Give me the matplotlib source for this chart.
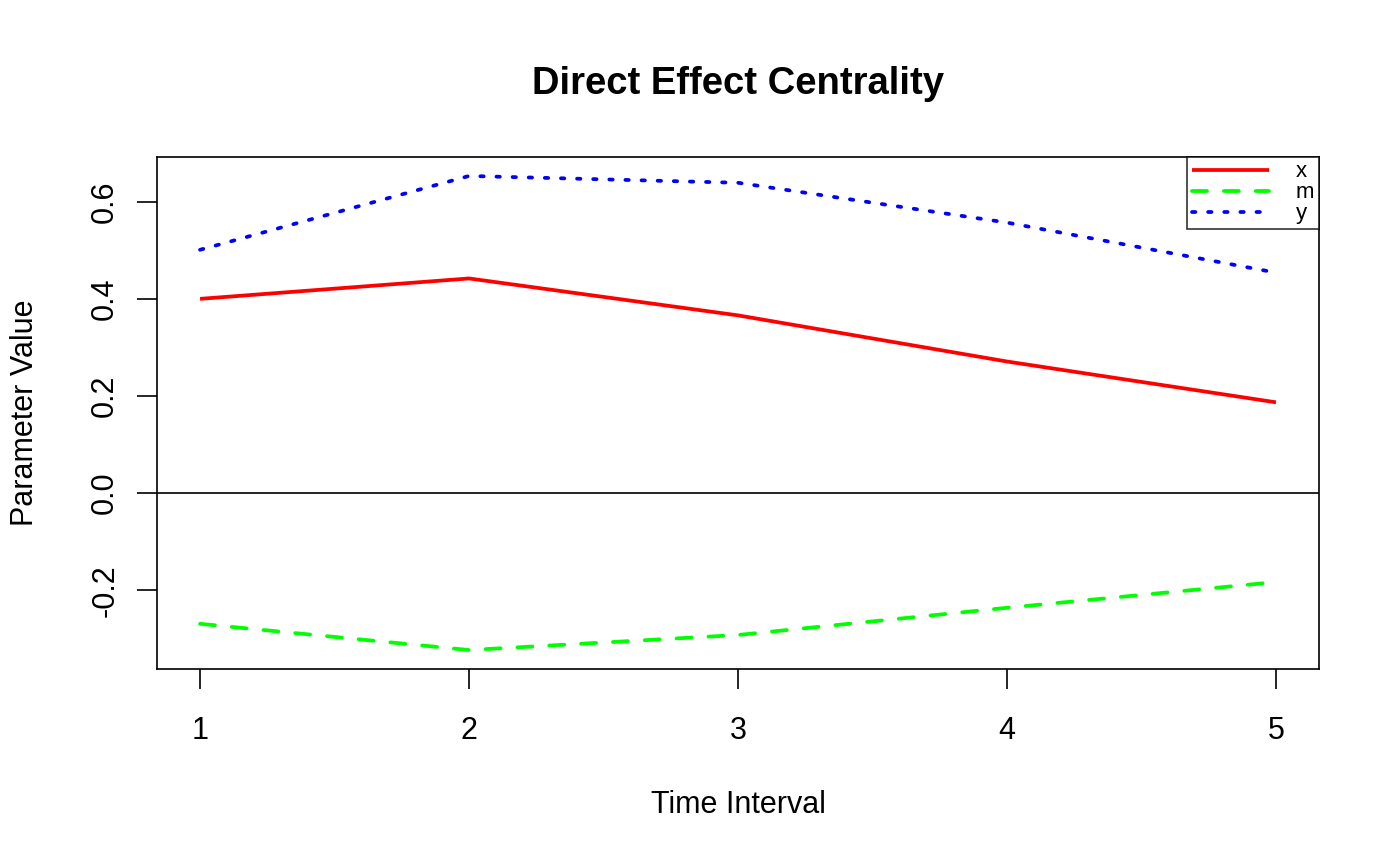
import matplotlib.pyplot as plt
import numpy as np

plt.rcParams['font.family'] = ['Liberation Sans', 'DejaVu Sans']

# data
time_interval = [1, 2, 3, 4, 5]
x_vals = [0.400, 0.442, 0.366, 0.271, 0.187]
m_vals = [-0.269, -0.323, -0.292, -0.236, -0.183]
y_vals = [0.501, 0.653, 0.639, 0.557, 0.454]

series = [('x', x_vals, '#ff0000', 'solid'),
          ('m', m_vals, '#00ff00', (0, (4, 4.5))),
          ('y', y_vals, '#0000ff', (0, (0.9, 3.4)))]

fig = plt.figure(figsize=(14, 8.66), dpi=100)
ax = fig.add_axes([157 / 1400, 1 - 669 / 866, (1319 - 157) / 1400, (669 - 157) / 866])

for name, vals, col, ls in series:
    ax.plot(time_interval, vals, color=col, linestyle=ls, linewidth=2.7,
            dash_capstyle='round', solid_capstyle='butt', label=name)

ax.axhline(0, color='black', linewidth=1.2)

# R style 4% axis extension
allv = np.array(x_vals + m_vals + y_vals)
lo, hi = allv.min(), allv.max()
pad = (hi - lo) * 0.04
ax.set_ylim(lo - pad, hi + pad)
ax.set_xlim(1 - 0.16, 5 + 0.16)

ax.set_xticks(time_interval)
ax.set_yticks([-0.2, 0.0, 0.2, 0.4, 0.6])
ax.set_yticklabels(['-0.2', '0.0', '0.2', '0.4', '0.6'], rotation=90, va='center')
ax.tick_params(axis='both', labelsize=22, length=14.5, width=1.2, direction='out')
ax.tick_params(axis='x', pad=19)
ax.tick_params(axis='y', pad=12)
for s in ax.spines.values():
    s.set_linewidth(1.2)

ax.set_xlabel('Time Interval', fontsize=22, va='center')
ax.xaxis.set_label_coords(0.5, (669 - 805) / 512)
ax.set_ylabel('Parameter Value', fontsize=22, va='center')
ax.yaxis.set_label_coords((25 - 157) / 1162, 0.5)
ax.set_title('Direct Effect Centrality', fontsize=27.5, fontweight='bold',
             pad=(157 - 80) * 0.72 - 10)

leg = ax.legend(loc='upper right', fontsize=16, frameon=True, fancybox=False,
                borderaxespad=0, handlelength=3.5, labelspacing=0.0,
                handletextpad=1.2, borderpad=0.2, handleheight=0.5)
leg.get_frame().set_edgecolor('black')
leg.get_frame().set_linewidth(1.2)

fig.savefig('out.png', dpi=100)
